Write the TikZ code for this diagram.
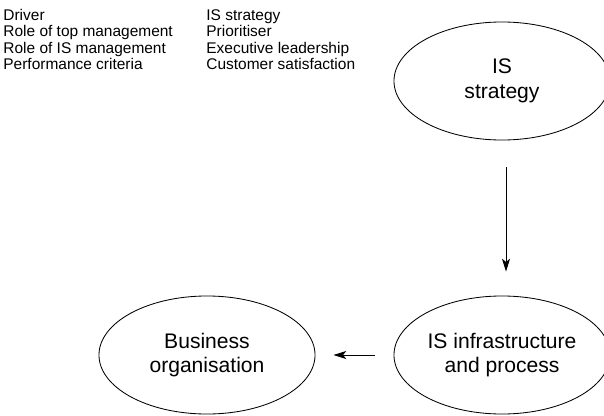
\documentclass[tikz,border=0pt]{standalone}
\usepackage{fontspec}
\setmainfont{Liberation Sans}
\usetikzlibrary{shapes.geometric,arrows.meta}
\begin{document}
\begin{tikzpicture}[x=0.025cm,y=-0.025cm,line width=0.6pt,
  bubble/.style={draw,ellipse,minimum width=5.4cm,minimum height=2.95cm,inner sep=0pt,align=center,font=\fontsize{15}{17.5}\selectfont},
  txt/.style={anchor=base west,inner sep=0pt,font=\fontsize{11}{13}\selectfont},
  link/.style={-{Stealth[length=0.32cm,width=0.2cm,inset=0.08cm]}}]
\useasboundingbox(0,0)rectangle(604,415);
%list
\foreach \i/\l/\r in {1/Driver/IS strategy,2/Role of top management/Prioritiser,3/Role of IS management/Executive leadership,4/Performance criteria/Customer satisfaction}{
  \node[txt](l\i)at(3,3.5+16.5*\i){\l};
  \node[txt](r\i)at(206,3.5+16.5*\i){\r};
}
%ellipses
\node[bubble](strat)at(502,81){IS\\strategy};
\node[bubble](infra)at(502,355){IS infrastructure\\and process};
\node[bubble](busi)at(207,355){Business\\organisation};
%arrows
\draw[link,shorten <=0.675cm,shorten >=0.6cm]([xshift=0.1cm]strat.south)--([xshift=0.1cm]infra.north);
\draw[link,shorten <=0.475cm,shorten >=0.45cm](infra.west)--(busi.east);
\end{tikzpicture}
\end{document}
